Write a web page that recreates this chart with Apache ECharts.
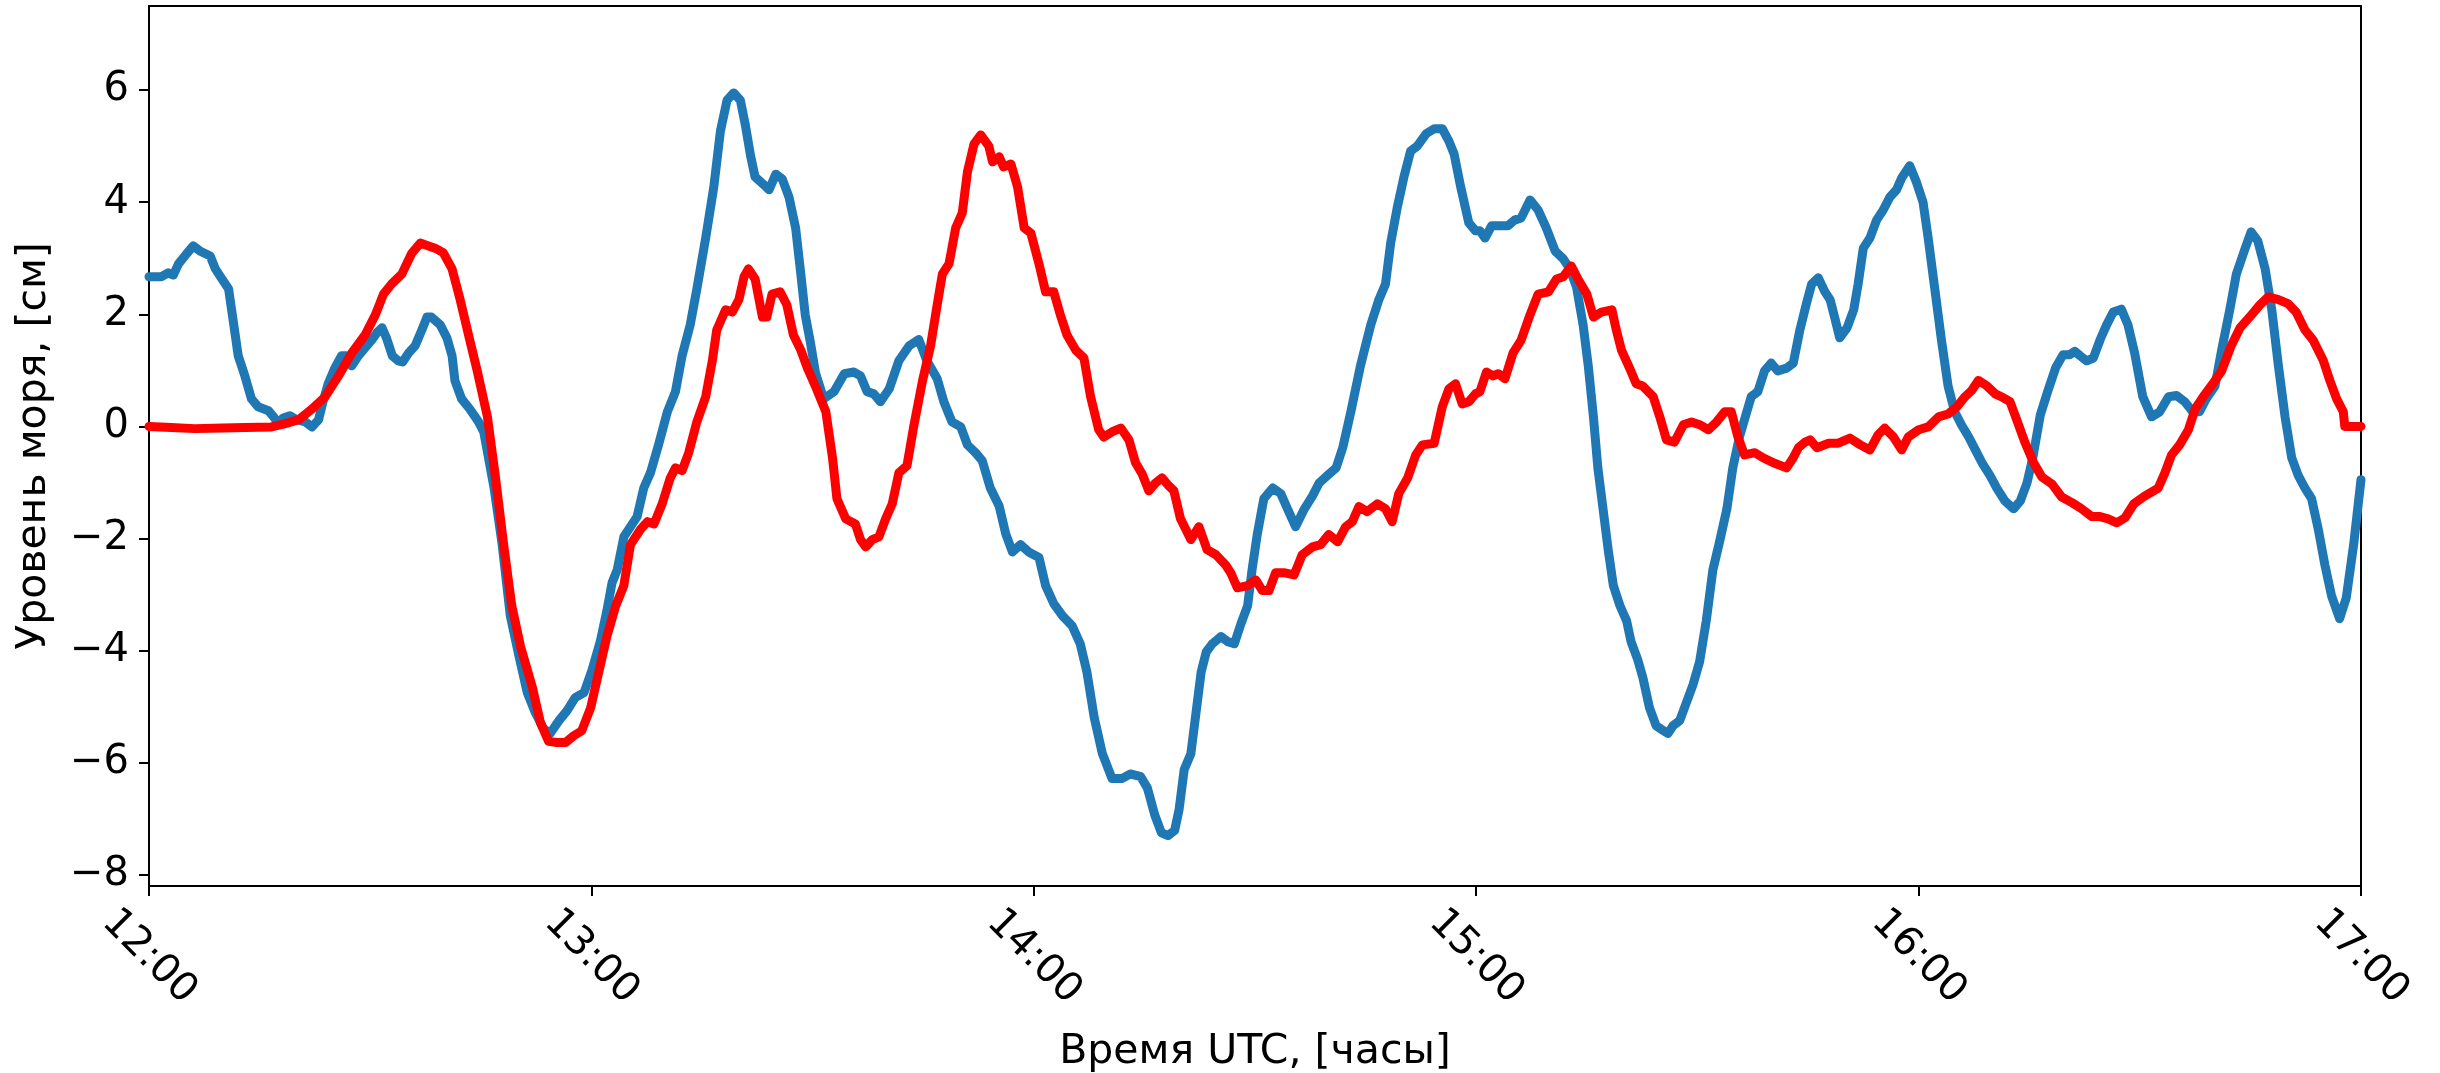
<!DOCTYPE html>
<html>
<head>
<meta charset="utf-8">
<script src="https://cdn.jsdelivr.net/npm/echarts@6/dist/echarts.min.js"></script>
<style>
html,body{margin:0;padding:0;background:#fff;}
#chart{width:2440px;height:1073px;}
</style>
</head>
<body>
<div id="chart"></div>
<script>
// Time in minutes after 12:00 UTC, sea level in cm
const blueTime = [0,1.7,2.6,3.3,4.0,5.1,6.0,6.9,8.3,9.0,9.9,10.8,11.4,12.1,13.0,13.9,14.8,16.2,16.9,17.5,18.2,19.1,20.0,21.2,22.1,23.0,23.6,24.3,25.2,26.1,26.8,27.5,28.4,29.3,30.2,30.9,31.6,32.2,33.0,33.8,34.4,35.2,36.1,37.0,37.7,38.3,39.5,40.4,41.1,41.5,42.4,43.5,44.7,
45.4,46.8,47.9,49.0,50.2,51.3,52.4,53.5,54.4,55.6,56.7,57.8,59.0,60.1,61.2,62.1,62.8,63.5,64.4,65.3,66.2,67.1,68.0,69.1,70.3,71.4,72.3,73.4,74.3,75.5,76.6,77.5,78.4,79.3,80.2,80.9,81.6,82.2,83.4,84.1,85.0,85.9,86.8,87.7,88.4,89.0,89.7,90.4,
91.5,92.9,94.3,95.6,96.5,97.4,98.3,99.2,100.4,101.7,103.1,104.4,105.5,106.9,107.8,108.9,110.1,111.0,112.1,113.0,114.1,115.3,116.2,117.1,118.2,119.3,120.7,121.6,122.7,123.9,125.2,126.3,127.2,128.2,129.3,130.6,132.0,133.1,134.5,
135.4,136.4,137.3,138.2,139.1,139.7,140.4,141.3,142.0,142.7,143.4,144.2,145.4,146.3,147.2,148.1,149.0,149.6,150.3,151.2,152.4,153.5,154.4,155.5,156.7,157.8,158.7,159.8,161.0,161.9,163.0,164.3,165.7,166.8,167.7,168.4,169.3,170.2,171.1,172.0,173.2,174.3,175.4,176.3,177.0,177.9,179.0,179.9,
180.5,181.2,182.1,183.2,184.3,185.2,186.1,187.3,188.4,189.5,190.7,191.8,192.7,193.6,194.5,195.2,195.9,196.5,197.2,197.9,198.6,199.5,200.4,201.0,201.9,202.6,203.5,204.4,205.4,206.0,206.7,207.6,208.5,209.4,210.3,211.2,212.1,213.0,214.0,214.8,215.7,216.7,217.3,218.2,219.1,220.0,220.9,222.1,223.0,223.9,224.8,
225.5,226.4,227.3,228.0,228.7,229.3,230.3,231.2,231.8,232.5,233.4,234.3,235.2,236.1,237.0,237.7,238.8,239.7,240.6,241.3,242.2,243.1,244.0,244.9,245.8,246.8,247.7,248.6,249.7,250.6,251.7,252.9,253.8,254.7,
255.5,256.5,257.5,258.6,259.6,260.5,261.2,261.9,262.8,263.7,264.6,265.5,266.4,267.5,268.4,269.3,270.4,271.6,272.7,273.9,275.0,276.1,277.2,278.1,279.0,280.2,281.1,282.2,283.1,284.3,285.1,286.0,287.0,287.9,288.8,289.7,290.6,291.5,292.4,293.3,294.2,295.1,296.0,297.1,298.0,299.0,300];
const blueLevel = [2.67,2.67,2.74,2.70,2.90,3.08,3.22,3.13,3.04,2.81,2.63,2.45,1.90,1.26,0.90,0.49,0.35,0.28,0.17,0.06,0.15,0.19,0.12,0.08,-0.01,0.12,0.44,0.76,1.04,1.26,1.26,1.08,1.26,1.40,1.54,1.67,1.76,1.58,1.26,1.17,1.15,1.31,1.44,1.72,1.95,1.95,1.81,1.58,1.26,0.81,0.49,0.31,0.08,
-0.10,-1.10,-2.11,-3.38,-4.11,-4.75,-5.11,-5.39,-5.48,-5.25,-5.07,-4.84,-4.75,-4.34,-3.84,-3.29,-2.79,-2.56,-1.97,-1.79,-1.61,-1.10,-0.83,-0.33,0.26,0.62,1.26,1.81,2.45,3.36,4.27,5.27,5.82,5.95,5.82,5.36,4.82,4.45,4.31,4.22,4.50,4.41,4.09,3.54,2.72,1.99,1.50,0.95,
0.49,0.62,0.94,0.97,0.90,0.62,0.58,0.44,0.67,1.17,1.44,1.55,1.17,0.85,0.44,0.08,-0.01,-0.33,-0.47,-0.61,-1.10,-1.42,-1.92,-2.24,-2.11,-2.24,-2.34,-2.84,-3.16,-3.38,-3.56,-3.88,-4.38,-5.20,-5.84,-6.28,-6.28,-6.20,-6.25,
-6.45,-6.93,-7.25,-7.30,-7.21,-6.84,-6.12,-5.84,-5.11,-4.38,-4.02,-3.88,-3.75,-3.84,-3.88,-3.52,-3.20,-2.56,-1.93,-1.29,-1.10,-1.20,-1.47,-1.79,-1.47,-1.24,-1.01,-0.88,-0.74,-0.38,0.26,1.08,1.81,2.26,2.54,3.27,3.91,4.45,4.91,5.00,5.22,5.31,5.31,5.09,4.86,4.27,3.63,3.49,
3.49,3.36,3.58,3.58,3.58,3.68,3.72,4.04,3.86,3.54,3.13,2.99,2.81,2.49,1.81,1.08,0.17,-0.74,-1.47,-2.20,-2.84,-3.20,-3.47,-3.84,-4.16,-4.48,-5.02,-5.34,-5.43,-5.48,-5.34,-5.25,-4.93,-4.61,-4.20,-3.47,-2.56,-2.06,-1.47,-0.74,-0.19,0.26,0.53,0.62,0.99,1.13,0.99,1.04,1.13,1.72,2.20,
2.54,2.65,2.40,2.26,1.90,1.58,1.76,2.08,2.54,3.18,3.36,3.68,3.86,4.09,4.22,4.43,4.65,4.36,4.00,3.36,2.45,1.54,0.72,0.26,0.03,-0.19,-0.42,-0.65,-0.88,-1.10,-1.33,-1.47,-1.33,-1.01,
-0.55,0.20,0.62,1.05,1.28,1.28,1.34,1.26,1.17,1.22,1.54,1.81,2.04,2.09,1.81,1.31,0.53,0.17,0.26,0.53,0.55,0.44,0.26,0.26,0.49,0.72,1.36,2.08,2.72,3.18,3.47,3.31,2.81,2.08,1.08,0.17,-0.56,-0.88,-1.10,-1.29,-1.83,-2.47,-3.02,-3.43,-3.06,-2.11,-0.95];

const redTime = [0,3,6.2,10,13,16.6,18.5,20.3,22.1,23.9,25.7,27.5,29.3,30.7,31.8,32.9,34.3,35.6,36.8,37.9,38.8,39.9,41.1,42.2,43.5,44.5,45.9,47.0,48.1,49.2,50.4,52.0,53.1,54.2,55.3,56.5,57.6,58.7,59.9,61.0,62.1,63.3,64.4,65.3,66.7,67.6,68.5,69.6,70.7,71.4,72.3,73.2,74.3,75.5,76.4,77.0,78.2,79.1,80.0,80.7,81.3,82.2,83.2,83.8,84.5,85.6,86.5,87.4,88.4,89.3,90.5,
91.8,92.7,93.3,94.5,95.8,96.5,97.2,98.1,99.0,99.9,100.8,101.7,102.8,103.7,104.9,106.0,106.9,107.6,108.5,109.4,110.3,111.0,111.9,112.8,113.9,114.4,115.3,115.9,116.9,117.8,118.7,119.6,120.7,121.6,122.7,123.6,124.5,125.7,126.8,127.7,128.8,129.5,130.6,131.8,132.9,133.8,134.7,
135.6,136.5,137.4,138.3,139.0,139.9,141.3,142.4,143.5,144.7,146.0,146.7,147.6,149.0,150.1,151.0,151.9,152.8,153.9,155.3,156.4,157.8,158.9,160.0,161.2,162.3,163.2,164.1,165.2,166.6,167.7,168.6,169.5,170.7,171.8,172.7,174.3,175.4,176.3,177.2,178.1,179.0,179.9,
180.5,181.4,182.3,183.0,183.9,185.0,186.1,187.3,188.4,189.8,190.9,191.8,192.9,193.8,195.0,195.9,197.0,198.4,199.0,199.7,200.8,201.7,202.6,204.0,204.9,205.8,206.9,208.1,209.2,210.3,211.5,212.6,213.7,214.6,215.5,216.4,217.8,218.9,220.3,222.1,223.0,223.7,224.6,
225.3,226.2,227.8,229.1,230.7,232.1,233.4,234.5,235.4,236.6,237.7,238.6,240.0,241.3,242.7,244.0,245.2,246.3,247.2,248.1,249.2,250.4,251.5,252.4,253.3,254.4,255.6,256.7,258.1,259.4,260.8,262.1,263.5,264.6,265.7,266.9,268.0,269.2,270.6,
272.5,273.4,274.3,275.4,276.6,277.5,278.6,279.9,281.1,282.4,283.6,284.9,286.3,287.4,288.8,290.1,291.2,292.4,293.5,294.9,295.8,296.7,297.6,297.8,300];
const redLevel = [0.0,-0.02,-0.04,-0.03,-0.02,-0.01,0.05,0.12,0.31,0.53,0.90,1.31,1.63,1.99,2.36,2.54,2.72,3.08,3.27,3.22,3.18,3.10,2.81,2.26,1.54,1.00,0.17,-0.92,-2.11,-3.20,-3.93,-4.66,-5.29,-5.62,-5.64,-5.64,-5.52,-5.43,-5.02,-4.38,-3.75,-3.20,-2.84,-2.11,-1.83,-1.70,-1.74,-1.38,-0.92,-0.74,-0.79,-0.47,0.08,0.53,1.17,1.72,2.08,2.04,2.26,2.67,2.81,2.63,1.95,1.95,2.36,2.40,2.17,1.63,1.36,1.04,0.68,
0.26,-0.56,-1.29,-1.65,-1.74,-2.02,-2.15,-2.02,-1.97,-1.65,-1.38,-0.83,-0.70,-0.01,0.81,1.44,2.17,2.72,2.90,3.54,3.81,4.54,5.04,5.20,5.00,4.72,4.81,4.63,4.68,4.27,3.54,3.45,2.90,2.40,2.40,1.99,1.63,1.36,1.22,0.53,-0.06,-0.19,-0.10,-0.03,-0.24,-0.65,-0.85,
-1.15,-1.01,-0.92,-1.06,-1.15,-1.65,-2.02,-1.79,-2.20,-2.29,-2.47,-2.61,-2.88,-2.84,-2.74,-2.93,-2.93,-2.61,-2.61,-2.65,-2.29,-2.15,-2.11,-1.93,-2.06,-1.79,-1.70,-1.43,-1.52,-1.38,-1.47,-1.70,-1.20,-0.92,-0.51,-0.33,-0.30,0.35,0.67,0.76,0.40,0.44,0.58,
0.62,0.97,0.90,0.94,0.85,1.31,1.54,1.99,2.36,2.40,2.63,2.67,2.86,2.63,2.36,1.95,2.04,2.08,1.72,1.36,1.04,0.76,0.72,0.53,0.17,-0.24,-0.28,0.03,0.08,0.03,-0.06,0.08,0.26,0.26,-0.19,-0.51,-0.47,-0.56,-0.65,-0.74,-0.56,-0.38,-0.28,
-0.24,-0.38,-0.30,-0.30,-0.21,-0.33,-0.42,-0.15,-0.03,-0.19,-0.42,-0.19,-0.06,-0.01,0.17,0.22,0.35,0.53,0.64,0.82,0.73,0.58,0.51,0.44,0.12,-0.28,-0.65,-0.90,-1.03,-1.26,-1.36,-1.47,-1.61,-1.61,-1.65,-1.72,-1.63,-1.38,-1.25,
-1.10,-0.83,-0.51,-0.33,-0.06,0.31,0.53,0.76,0.99,1.44,1.76,1.95,2.17,2.31,2.26,2.19,2.04,1.72,1.54,1.17,0.81,0.49,0.26,0.0,0.0];

const yTickValues = [-8,-6,-4,-2,0,2,4,6];
const xTickLabels = ['12:00','13:00','14:00','15:00','16:00','17:00'];
const xAxisTitle = 'Время UTC, [часы]';
const yAxisTitle = 'Уровень моря, [см]';

const blueData = blueTime.map((t,i)=>[t, blueLevel[i]]);
const redData = redTime.map((t,i)=>[t, redLevel[i]]);

const FONT = 'DejaVu Sans';
const chart = echarts.init(document.getElementById('chart'), null, {renderer:'canvas'});
chart.setOption({
  animation:false,
  backgroundColor:'#ffffff',
  grid:{left:149,right:79,top:6,bottom:187,show:true,borderColor:'#000',borderWidth:2,backgroundColor:'transparent',containLabel:false,outerBoundsMode:'none'},
  xAxis:{
    type:'value',min:0,max:300,interval:60,
    name:xAxisTitle,nameLocation:'middle',nameGap:146,
    nameTextStyle:{fontFamily:FONT,fontSize:41,color:'#000'},
    axisLine:{show:true,onZero:false,lineStyle:{color:'#000',width:2}},
    axisTick:{show:true,inside:false,length:10,lineStyle:{color:'#000',width:2}},
    axisLabel:{show:true,rotate:-45,margin:71,align:'center',verticalAlign:'middle',
      fontFamily:FONT,fontSize:40,color:'#000',
      formatter:function(v){return xTickLabels[Math.round(v/60)];}},
    splitLine:{show:false}
  },
  yAxis:{
    type:'value',min:-8.2,max:7.5,
    name:yAxisTitle,nameLocation:'middle',nameGap:94,nameRotate:90,
    nameTextStyle:{fontFamily:FONT,fontSize:41,color:'#000'},
    axisLine:{show:true,onZero:false,lineStyle:{color:'#000',width:2}},
    axisTick:{show:true,inside:false,length:10,customValues:yTickValues,lineStyle:{color:'#000',width:2}},
    axisLabel:{show:true,margin:20,customValues:yTickValues,fontFamily:FONT,fontSize:40,color:'#000',
      formatter:function(v){return (v<0?'\u2212'+Math.abs(v):String(v));}},
    splitLine:{show:false}
  },
  series:[
    {type:'line',data:blueData,showSymbol:false,symbol:'none',smooth:false,z:2,
     lineStyle:{color:'#1f77b4',width:9,cap:'round',join:'round'}},
    {type:'line',data:redData,showSymbol:false,symbol:'none',smooth:false,z:3,
     lineStyle:{color:'#ff0000',width:9,cap:'round',join:'round'}}
  ]
});
</script>
</body>
</html>
